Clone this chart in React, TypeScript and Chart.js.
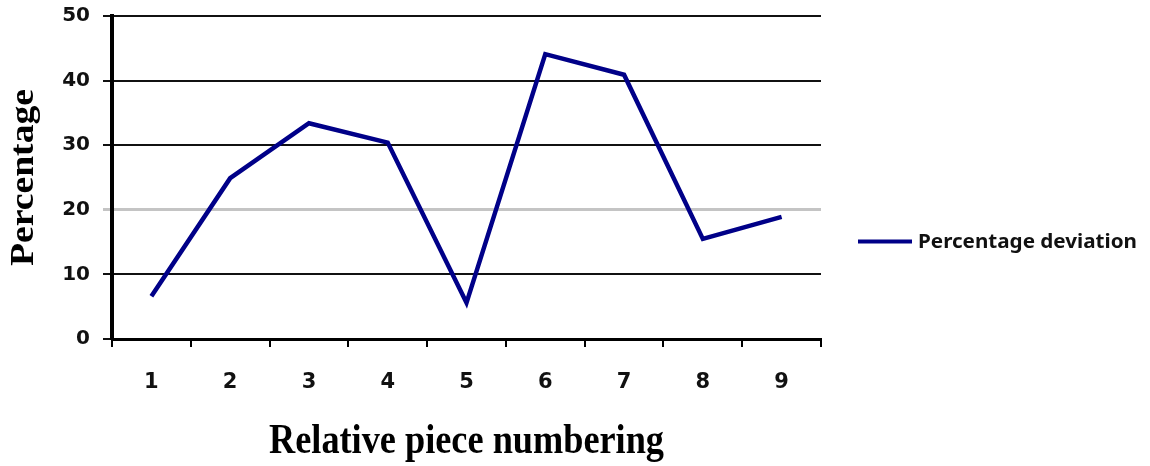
import React, { useEffect, useRef } from "react";
import { Chart, registerables } from "chart.js";

Chart.register(...registerables);

// ---- data ----
const categories = ["1", "2", "3", "4", "5", "6", "7", "8", "9"];
const deviation = [6.6, 24.9, 33.4, 30.4, 5.6, 44.1, 40.9, 15.5, 18.9];
const yTicks = [0, 10, 20, 30, 40, 50];
const seriesLabel = "Percentage deviation";
const xTitle = "Relative piece numbering";
const yTitle = "Percentage";

const LINE_COLOR = "#000088";

const textPlugin = {
  id: "customText",
  afterDraw(chart: any) {
    const ctx = chart.ctx as CanvasRenderingContext2D;
    const area = chart.chartArea;
    ctx.save();

    // legend
    ctx.strokeStyle = LINE_COLOR;
    ctx.lineWidth = 4;
    ctx.beginPath();
    ctx.moveTo(858, 241.5);
    ctx.lineTo(912, 241.5);
    ctx.stroke();

    ctx.fillStyle = "#111";
    ctx.font = "bold 19px 'Noto Sans'";
    ctx.textAlign = "left";
    ctx.textBaseline = "alphabetic";
    let w = ctx.measureText(seriesLabel).width;
    ctx.save();
    ctx.translate(918, 248);
    ctx.scale(219 / w, 1);
    ctx.fillText(seriesLabel, 0, 0);
    ctx.restore();

    // y title
    ctx.fillStyle = "#000";
    ctx.font = "bold 33px 'Liberation Serif'";
    ctx.textAlign = "center";
    w = ctx.measureText(yTitle).width;
    ctx.save();
    ctx.translate(33, (area.top + area.bottom) / 2);
    ctx.rotate(-Math.PI / 2);
    ctx.scale(177 / w, 1);
    ctx.fillText(yTitle, 0, 0);
    ctx.restore();

    // x title
    ctx.font = "bold 40px 'Liberation Serif'";
    w = ctx.measureText(xTitle).width;
    ctx.save();
    ctx.translate((area.left + area.right) / 2, 453);
    ctx.scale(395 / w, 1.05);
    ctx.fillText(xTitle, 0, 0);
    ctx.restore();

    ctx.restore();
  },
};

export default function App() {
  const canvasRef = useRef<HTMLCanvasElement | null>(null);

  useEffect(() => {
    const canvas = canvasRef.current;
    if (!canvas) return;
    const chart = new Chart(canvas, {
      type: "line",
      data: {
        labels: categories,
        datasets: [
          {
            label: seriesLabel,
            data: deviation,
            borderColor: LINE_COLOR,
            backgroundColor: LINE_COLOR,
            borderWidth: 4.5,
            pointRadius: 0,
            tension: 0,
            fill: false,
          },
        ],
      },
      options: {
        responsive: false,
        animation: false,
        events: [],
        layout: { padding: { top: 16, right: 329, left: 0, bottom: 0 } },
        plugins: {
          legend: { display: false },
          tooltip: { enabled: false },
          title: { display: false },
        },
        scales: {
          x: {
            type: "category",
            offset: true,
            grid: {
              offset: true,
              drawOnChartArea: false,
              color: "#000",
              lineWidth: 2,
              tickLength: 8,
            },
            border: { color: "#000", width: 3 },
            ticks: {
              color: "#111",
              font: { family: "'DejaVu Sans'", size: 21, weight: "bold" },
              padding: 23,
              maxRotation: 0,
              autoSkip: false,
            },
            afterFit: (s: any) => {
              s.height = 127;
              s.paddingLeft = 0;
              s.paddingRight = 0;
            },
          },
          y: {
            min: 0,
            max: 50,
            afterBuildTicks: (s: any) => {
              s.ticks = yTicks.map((v) => ({ value: v }));
            },
            grid: {
              color: (c: any) => (c.tick && c.tick.value === 20 ? "#c4c4c4" : "#111"),
              lineWidth: (c: any) => (c.tick && c.tick.value === 20 ? 3 : 2),
              tickLength: 9,
            },
            border: { color: "#000", width: 4 },
            ticks: {
              color: "#111",
              font: { family: "'DejaVu Sans'", size: 20, weight: "bold" },
              padding: 13,
            },
            afterFit: (s: any) => {
              s.width = 112;
              s.paddingTop = 0;
              s.paddingBottom = 0;
            },
          },
        },
      },
      plugins: [textPlugin],
    });
    return () => chart.destroy();
  }, []);

  return (
    <div style={{ position: "absolute", left: 0, top: 0, width: 1150, height: 466, background: "#fff" }}>
      <canvas ref={canvasRef} width={1150} height={466} style={{ display: "block" }} />
    </div>
  );
}
